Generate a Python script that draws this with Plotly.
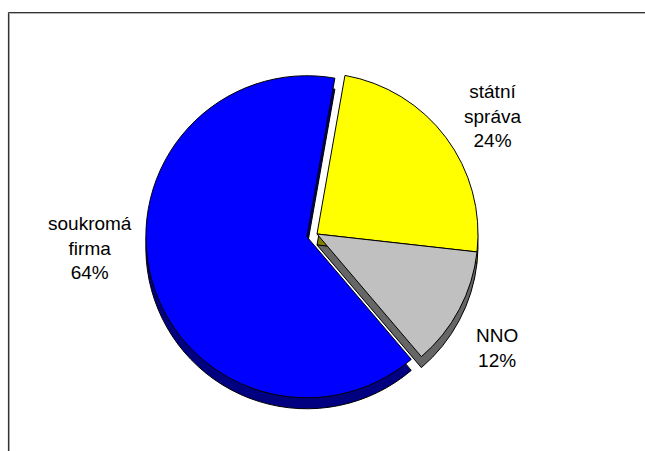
import plotly.graph_objects as go

# Employment sector shares
sectors = ["státní správa", "NNO", "soukromá firma"]
shares = [24, 12, 64]
top_colors = ["#FFFF00", "#C0C0C0", "#0000FF"]
side_colors = ["#808000", "#666666", "#000080"]
pulls = [0, 0, 0.065]

W, H = 645, 451
FONT = "Liberation Sans, Arial, sans-serif"

# pie footprint in pixels
cx, cy, half = 317, 234, 171.5
depth = 11  # apparent thickness of the disc

# label anchor points (pixel centres) for each sector
label_px = [(492, 116), (497, 348), (90, 248)]


def dom(dy=0):
    return dict(
        x=[(cx - half) / W, (cx + half) / W],
        y=[1 - (cy + half + dy) / H, 1 - (cy - half + dy) / H],
    )


fig = go.Figure()

# darker copy underneath, shifted down, gives the disc its edge
fig.add_trace(go.Pie(
    labels=sectors, values=shares, sort=False, direction="clockwise",
    rotation=10, pull=pulls, domain=dom(depth),
    marker=dict(colors=side_colors, line=dict(color="#000000", width=1)),
    textinfo="none", hoverinfo="skip", showlegend=False,
))

fig.add_trace(go.Pie(
    labels=sectors, values=shares, sort=False, direction="clockwise",
    rotation=10, pull=pulls, domain=dom(0),
    marker=dict(colors=top_colors, line=dict(color="#000000", width=1)),
    textinfo="none", showlegend=False,
))

# category labels with their percentage
total = sum(shares)
for name, val, (px, py) in zip(sectors, shares, label_px):
    fig.add_annotation(
        x=px / W, y=1 - py / H, xref="paper", yref="paper",
        text=name.replace(" ", "<br>") + "<br>" + f"{round(100 * val / total)}%",
        showarrow=False, align="center", xanchor="center", yanchor="middle",
        font=dict(family=FONT, size=19, color="#000000"),
    )

# chart-area frame: top and left edges (the rest runs off the page)
fig.add_shape(type="line", xref="paper", yref="paper",
              x0=9.5 / W, x1=1.0, y0=1 - 13.5 / H, y1=1 - 13.5 / H,
              line=dict(color="#b4b4b4", width=1))
fig.add_shape(type="line", xref="paper", yref="paper",
              x0=9.5 / W, x1=9.5 / W, y0=0, y1=1 - 13.5 / H,
              line=dict(color="#b4b4b4", width=1))
fig.add_shape(type="line", xref="paper", yref="paper",
              x0=8.5 / W, x1=1.0, y0=1 - 12.5 / H, y1=1 - 12.5 / H,
              line=dict(color="#333333", width=1.2))
fig.add_shape(type="line", xref="paper", yref="paper",
              x0=8.5 / W, x1=8.5 / W, y0=0, y1=1 - 12.5 / H,
              line=dict(color="#333333", width=1.2))

fig.update_layout(
    width=W, height=H,
    margin=dict(l=0, r=0, t=0, b=0),
    paper_bgcolor="#FFFFFF", plot_bgcolor="#FFFFFF",
    font=dict(family=FONT, size=19, color="#000000"),
)

fig.write_html("out.html")
